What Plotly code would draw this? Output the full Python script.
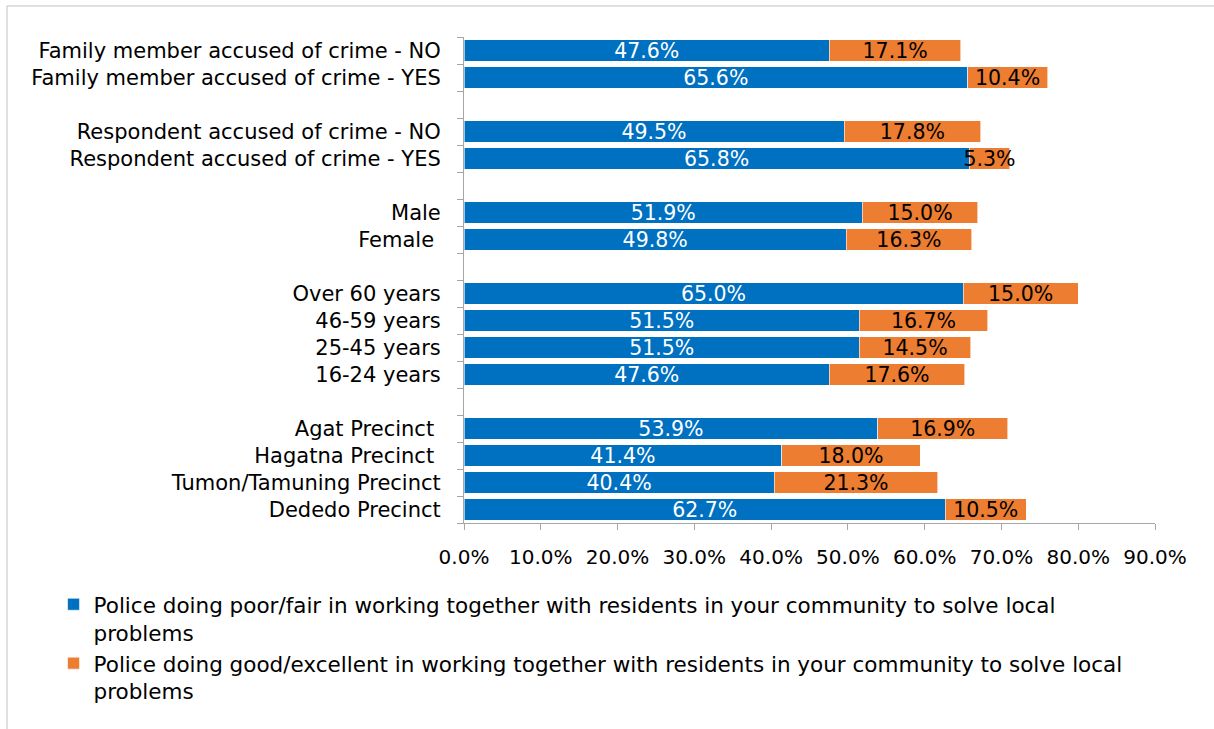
import plotly.graph_objects as go

# Survey groups, top to bottom; blank strings are spacer rows between groups
categories = [
    "Family member accused of crime - NO",
    "Family member accused of crime - YES",
    " ",
    "Respondent accused of crime - NO",
    "Respondent accused of crime - YES",
    "  ",
    "Male",
    "Female\u00a0",
    "   ",
    "Over 60 years",
    "46-59 years",
    "25-45 years",
    "16-24 years",
    "    ",
    "Agat Precinct\u00a0",
    "Hagatna Precinct\u00a0",
    "Tumon/Tamuning Precinct",
    "Dededo Precinct",
]

poor_fair = [47.6, 65.6, None, 49.5, 65.8, None, 51.9, 49.8, None,
             65.0, 51.5, 51.5, 47.6, None, 53.9, 41.4, 40.4, 62.7]
good_excellent = [17.1, 10.4, None, 17.8, 5.3, None, 15.0, 16.3, None,
                  15.0, 16.7, 14.5, 17.6, None, 16.9, 18.0, 21.3, 10.5]

series_names = [
    "Police doing poor/fair in working together with residents in your community to solve local<br>problems",
    "Police doing good/excellent in working together with residents in your community to solve local<br>problems",
]

x_ticks = [0, 10, 20, 30, 40, 50, 60, 70, 80, 90]
x_tick_text = [f"{v:.1f}%" for v in x_ticks]

FONT = "DejaVu Sans"
BLUE = "#0070C0"
ORANGE = "#ED7D31"
AXIS = "#A6A6A6"

fig = go.Figure()
for vals, name, color, txtcolor in [
    (poor_fair, series_names[0], BLUE, "white"),
    (good_excellent, series_names[1], ORANGE, "black"),
]:
    fig.add_trace(go.Bar(
        y=categories, x=vals, name=name, orientation="h",
        marker=dict(color=color, line=dict(color="rgba(255,255,255,0.6)", width=1)),
        texttemplate="%{x:.1f}%", textposition="inside",
        insidetextanchor="middle", textangle=0, constraintext="none",
        insidetextfont=dict(family=FONT, size=20.5, color=txtcolor),
        hoverinfo="skip",
    ))

fig.update_layout(
    barmode="stack",
    bargap=0.2,
    width=1214, height=729,
    margin=dict(l=464, r=59, t=37, b=206),
    paper_bgcolor="white", plot_bgcolor="white",
    font=dict(family=FONT, size=21, color="black"),
    showlegend=True,
    legend=dict(
        x=-0.594, y=-0.125, xanchor="left", yanchor="top",
        traceorder="normal", font=dict(family=FONT, size=21.5),
        itemwidth=30, tracegroupgap=5, valign="top",
    ),
    shapes=[
        dict(type="line", xref="paper", yref="paper", x0=-0.6614, x1=1.1, y0=1.0638, y1=1.0638,
             line=dict(color="#BFBFBF", width=1)),
        dict(type="line", xref="paper", yref="paper", x0=-0.6614, x1=-0.6614, y0=1.0638, y1=-0.45,
             line=dict(color="#BFBFBF", width=1)),
    ],
)

fig.update_yaxes(
    type="category", categoryorder="array", categoryarray=categories,
    tickmode="array", tickvals=categories, ticktext=categories,
    autorange="reversed", tickson="boundaries",
    ticks="outside", ticklen=6, tickcolor=AXIS,
    showline=True, linecolor=AXIS, linewidth=1, showgrid=False,
    tickfont=dict(family=FONT, size=21, color="black"),
    ticklabelstandoff=18,
)
fig.update_xaxes(
    range=[0, 90], tickvals=x_ticks, ticktext=x_tick_text,
    ticks="outside", ticklen=6, tickcolor=AXIS,
    showline=True, linecolor=AXIS, linewidth=1, showgrid=False, zeroline=False,
    tickfont=dict(family=FONT, size=20, color="black"),
    ticklabelstandoff=10,
)

fig.write_html("out.html")
